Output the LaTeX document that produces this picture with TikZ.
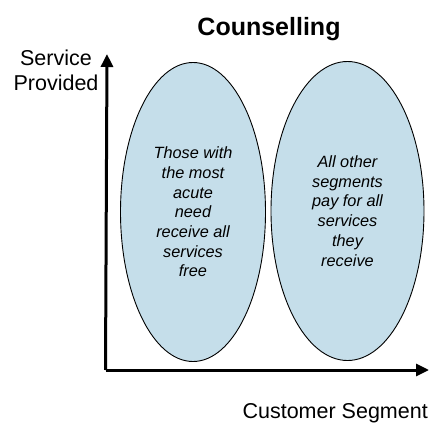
\documentclass[tikz,border=0pt]{standalone}
\usepackage{fontspec}
\setmainfont{Liberation Sans}
\usetikzlibrary{shapes.geometric,arrows.meta}
\definecolor{ellfill}{RGB}{197,222,234}
\tikzset{
  seg/.style={ellipse, draw=black, line width=0.9pt, fill=ellfill, inner sep=0pt,
    minimum width=#1, minimum height=299pt, align=center,
    font=\fontsize{16.3}{19.7}\selectfont\itshape},
  axis/.style={line width=3pt, -{Triangle[length=13pt,width=12pt]}},
  lab/.style={font=\fontsize{21.5}{25}\selectfont, align=center, inner sep=0pt}
}
\begin{document}
\begin{tikzpicture}[x=1pt,y=-1pt]
\useasboundingbox (0,0) rectangle (429,423);
\node[font=\fontsize{25}{30}\selectfont\bfseries, inner sep=0pt] (title) at (269,29) {Counselling};
\coordinate (origin) at (107,370);
\coordinate (ytip) at (107,54);
\coordinate (xtip) at (429,370);
\node[seg=145pt] (left) at (193,212) {Those with\\the most\\acute\\need\\receive all\\services\\free};
\node[seg=153pt] (right) at (347.5,211) {All other\\segments\\pay for all\\services\\they\\receive};
\draw[axis] ([xshift=-1.5pt]origin) -- (ytip);
\draw[axis] ([xshift=-1.5pt]origin) -- (xtip);
\node[lab] (ylab) at (56,70) {Service\\Provided};
\node[lab, anchor=east] (xlab) at (428,413) {Customer Segment};
\end{tikzpicture}
\end{document}
